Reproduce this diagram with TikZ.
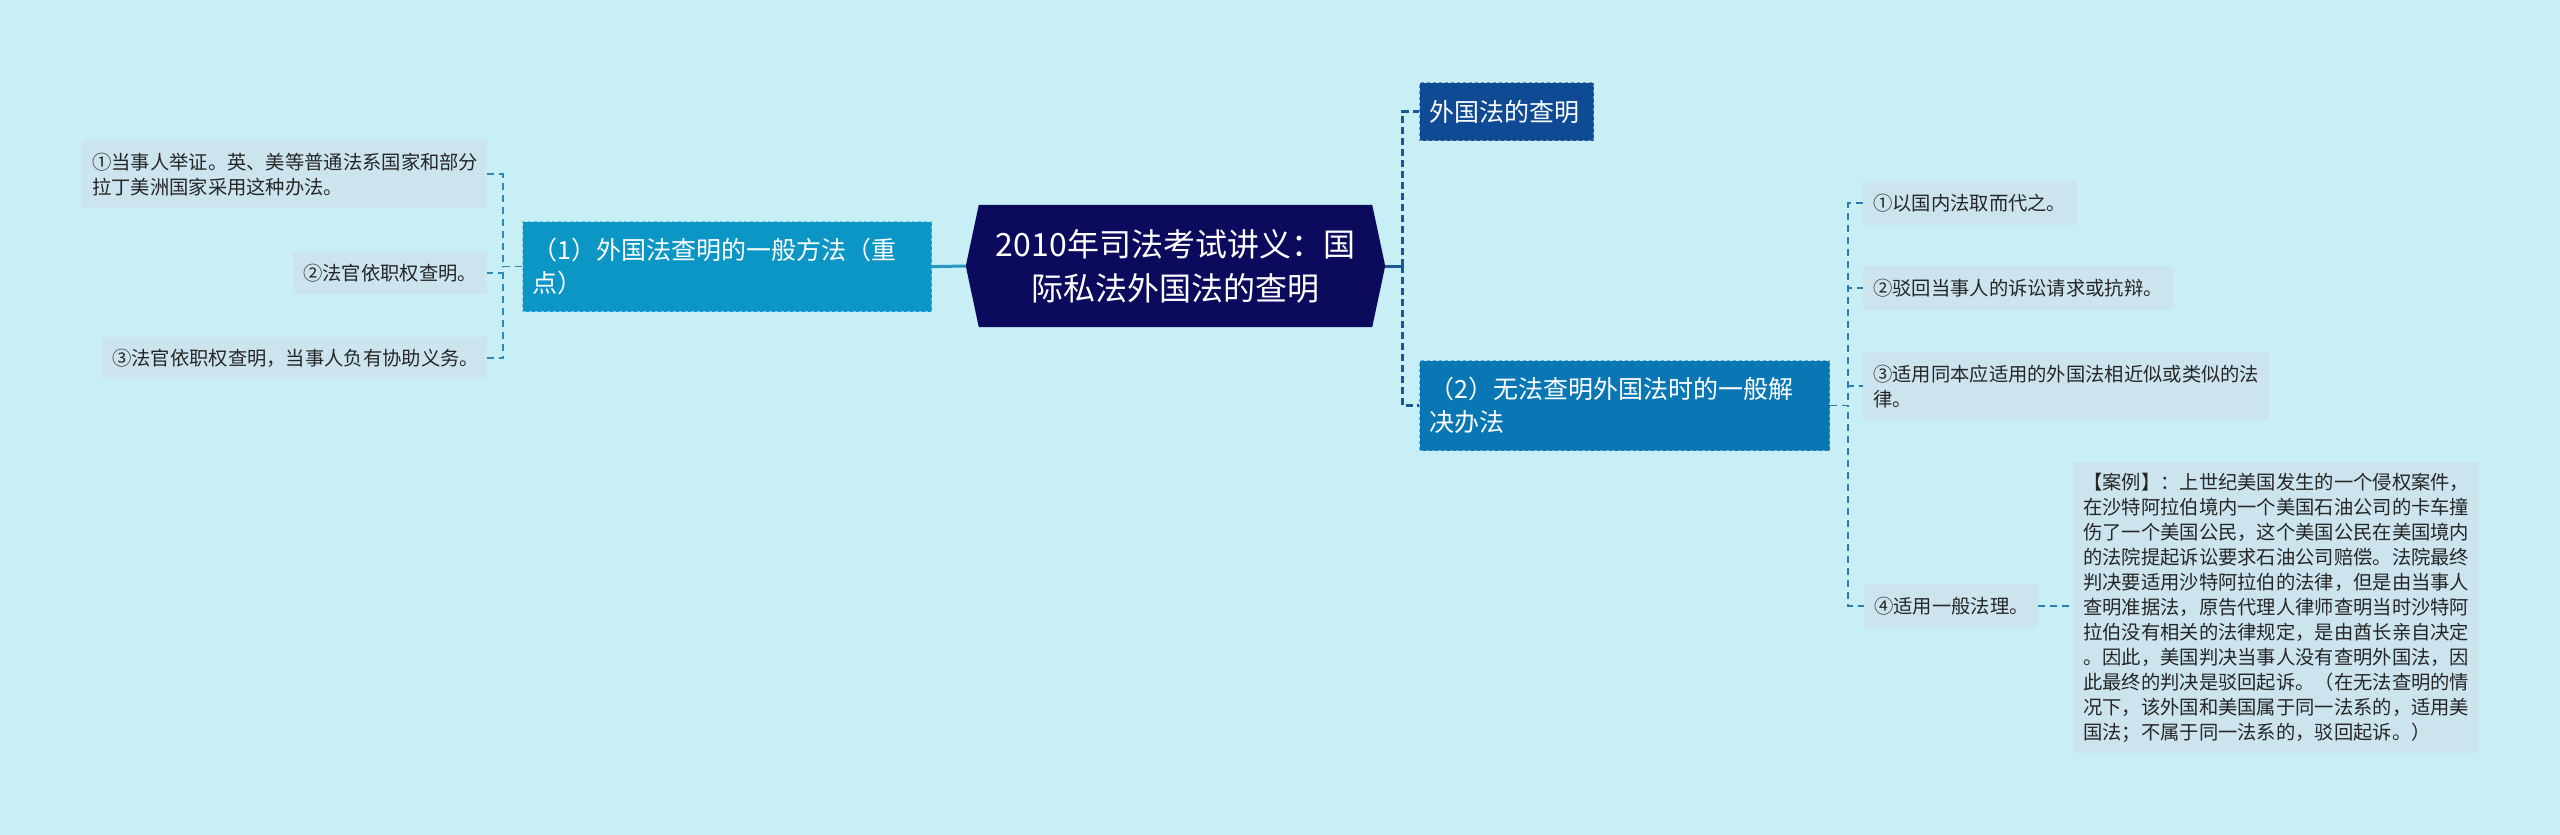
\documentclass[tikz,border=0pt]{standalone}
\usepackage{fontspec}
\setmainfont{Noto Sans CJK SC}
\usetikzlibrary{backgrounds}

\definecolor{bgcyan}{HTML}{C8EEF6}
\definecolor{leafgray}{HTML}{CCE4EE}
\definecolor{rootnavy}{HTML}{0C0A5C}
\definecolor{methodblue}{HTML}{0B96C6}
\definecolor{titleblue}{HTML}{0E4B94}
\definecolor{solveblue}{HTML}{0A77B5}
\definecolor{linkleft}{HTML}{2E8BB8}
\definecolor{linkright}{HTML}{1B5796}
\definecolor{linksolve}{HTML}{2A7DB0}

\tikzset{
  box/.style={anchor=north west, inner xsep=10pt, inner ysep=0pt, align=left},
  leaf/.style={box, fill=leafgray, text=black!85, font=\fontsize{19.3}{25}\selectfont},
  branch/.style={box, text=white, draw, dashed, line width=1.2pt, font=\fontsize{25}{33}\selectfont},
  thinlink/.style={dash pattern=on 7pt off 5pt, line width=1.6pt},
  thicklink/.style={dash pattern=on 7pt off 4pt, line width=3pt, draw=linkright},
}

\begin{document}
\begin{tikzpicture}[x=1pt, y=-1pt]
  \begin{scope}[on background layer]
    \fill[bgcyan] (0,0) rectangle (2560,835);
  \end{scope}
  \useasboundingbox (0,0) rectangle (2560,835);

  % root
  \node (root) [align=center, text=white, inner sep=0pt, minimum width=419pt, minimum height=122pt,
    font=\fontsize{32}{44}\selectfont] at (1175.5,266) {2010年司法考试讲义：国\\际私法外国法的查明};
  \begin{scope}[on background layer]
    \fill[rootnavy] (root.west) -- ([xshift=13pt]root.north west) -- ([xshift=-13pt]root.north east)
      -- (root.east) -- ([xshift=-13pt]root.south east) -- ([xshift=13pt]root.south west) -- cycle;
  \end{scope}

  % first level
  \node (method) [branch, fill=methodblue, draw=methodblue!55!white, text width=389pt, minimum height=90pt]
    at (522,221) {（1）外国法查明的一般方法（重\\点）};
  \node (title) [branch, fill=titleblue, draw=titleblue!60!white, text width=154pt, minimum height=58pt]
    at (1419,82) {外国法的查明};
  \node (solve) [branch, fill=solveblue, draw=solveblue!60!white, text width=390pt, minimum height=90pt]
    at (1419,360) {（2）无法查明外国法时的一般解\\决办法};

  % left leaves
  \node (proof) [leaf, text width=385pt, minimum height=68pt] at (82,140)
    {①当事人举证。英、美等普通法系国家和部分\\拉丁美洲国家采用这种办法。};
  \node (judge) [leaf, text width=174pt, minimum height=42pt] at (293,252) {②法官依职权查明。};
  \node (assist) [leaf, text width=365pt, minimum height=42pt] at (102,337) {③法官依职权查明，当事人负有协助义务。};

  % right leaves
  \node (domestic) [leaf, text width=194pt, minimum height=44pt] at (1863,181) {①以国内法取而代之。};
  \node (reject) [leaf, text width=290pt, minimum height=44pt] at (1863,266) {②驳回当事人的诉讼请求或抗辩。};
  \node (similar) [leaf, text width=386pt, minimum height=68pt] at (1863,352)
    {③适用同本应适用的外国法相近似或类似的法\\律。};
  \node (general) [leaf, text width=154pt, minimum height=44pt] at (1864,584) {④适用一般法理。};
  \node (case) [leaf, text width=386pt, minimum height=291pt] at (2073,462)
    {【案例】：上世纪美国发生的一个侵权案件，\\在沙特阿拉伯境内一个美国石油公司的卡车撞\\伤了一个美国公民，这个美国公民在美国境内\\的法院提起诉讼要求石油公司赔偿。法院最终\\判决要适用沙特阿拉伯的法律，但是由当事人\\查明准据法，原告代理人律师查明当时沙特阿\\拉伯没有相关的法律规定，是由酋长亲自决定\\。因此，美国判决当事人没有查明外国法，因\\此最终的判决是驳回起诉。（在无法查明的情\\况下，该外国和美国属于同一法系的，适用美\\国法；不属于同一法系的，驳回起诉。）};

  % connectors
  \draw[line width=3pt, draw=linkleft!90!cyan] (root.west) -- (method.east);
  \coordinate (rj) at ([xshift=17pt]root.east);
  \draw[line width=3pt, draw=linkright] (root.east) -- (rj);
  \draw[thicklink] (rj) |- (title.west);
  \draw[thicklink] (rj) |- (solve.west);
  \foreach \leafname in {proof, judge, assist}
    \draw[thinlink, draw=linkleft] (method.west) -- ++(-19,0) |- (\leafname.east);
  \foreach \leafname in {domestic, reject, similar, general}
    \draw[thinlink, draw=linksolve] (solve.east) -- ++(18,0) |- (\leafname.west);
  \draw[thinlink, draw=linksolve] (general.east) -- (general.east -| case.west);
\end{tikzpicture}
\end{document}
